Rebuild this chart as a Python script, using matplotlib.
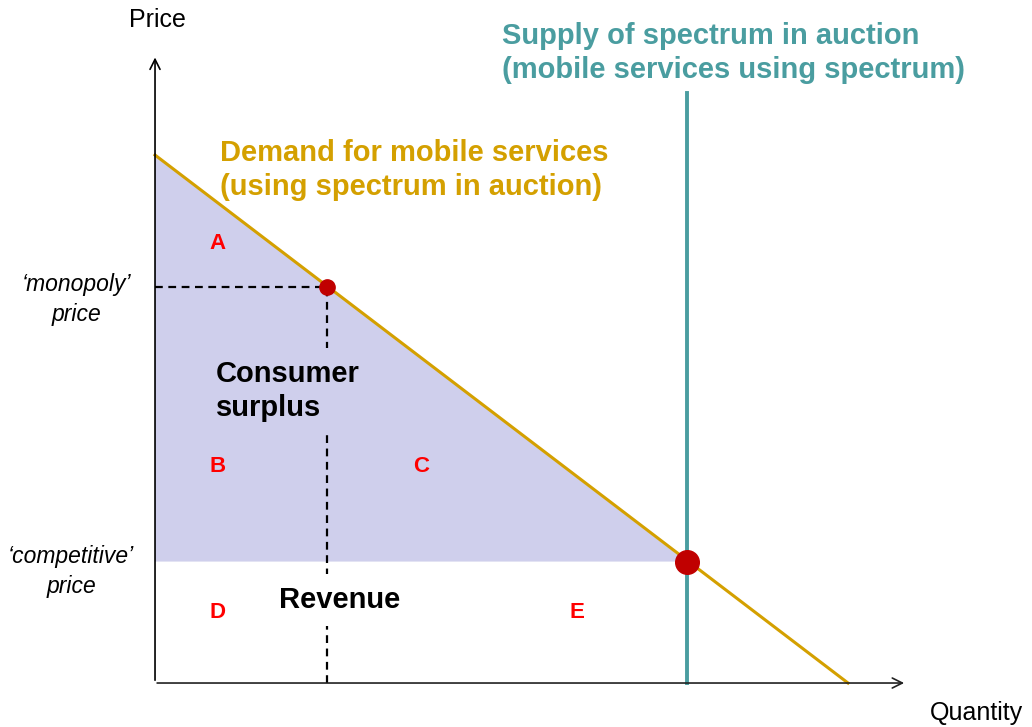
import matplotlib.pyplot as plt

plt.rcParams['font.family'] = ['Liberation Sans', 'DejaVu Sans']

# demand: P = demand_intercept - demand_slope * Q
demand_intercept = 10.0
demand_slope = 1.0
supply_quantity = 7.67
competitive_price = 2.3
monopoly_quantity = 2.48
monopoly_price = 7.5

region_letters = ['A', 'B', 'C', 'D', 'E']
letter_x = [0.9, 0.9, 3.84, 0.9, 6.09]
letter_y = [8.33, 4.11, 4.11, 1.33, 1.33]

gold = '#D4A000'
teal = '#4A9DA0'
lavender = '#CFCFEC'
dark_red = '#C00000'

fig = plt.figure(figsize=(10.32, 7.27), dpi=100)
ax = fig.add_axes([0, 0, 1, 1])
ax.set_xlim(-2.237, 12.655)
ax.set_ylim(-0.833, 12.936)
ax.axis('off')

q_end = demand_intercept / demand_slope

# consumer surplus area
ax.fill([0, 0, supply_quantity], [competitive_price, demand_intercept, competitive_price],
        color=lavender, lw=0, zorder=1)

# dashed guides for monopoly point
ax.plot([0, monopoly_quantity], [monopoly_price, monopoly_price], ls=(0, (3.5, 2.5)),
        color='black', lw=1.6, zorder=2)
ax.plot([monopoly_quantity, monopoly_quantity], [0, monopoly_price], ls=(0, (3.5, 2.5)),
        color='black', lw=1.6, zorder=2)

# demand and supply
ax.plot([0, q_end], [demand_intercept, 0], color=gold, lw=2.2, zorder=3)
ax.plot([supply_quantity, supply_quantity], [0, 11.17], color=teal, lw=2.8, zorder=3)

# axes with arrows
ax.annotate('', xy=(0, 11.9), xytext=(0, 0),
            arrowprops=dict(arrowstyle='->', color='black', lw=1.2, mutation_scale=18), zorder=4)
ax.annotate('', xy=(10.85, 0), xytext=(-0.01, 0),
            arrowprops=dict(arrowstyle='->', color='#222222', lw=1.2, mutation_scale=18), zorder=4)

# points
ax.plot(monopoly_quantity, monopoly_price, 'o', color=dark_red, ms=11, zorder=5)
ax.plot(supply_quantity, competitive_price, 'o', color=dark_red, ms=17, zorder=5)

# labels
ax.text(0.03, 12.55, 'Price', fontsize=18, ha='center', va='center')
ax.text(11.86, -0.57, 'Quantity', fontsize=18, ha='center', va='center')
ax.text(-1.13, 7.27, '\u2018monopoly\u2019\nprice', fontsize=16.5, style='italic',
        ha='center', va='center', linespacing=1.38)
ax.text(-1.21, 2.12, '\u2018competitive\u2019\nprice', fontsize=16.5, style='italic',
        ha='center', va='center', linespacing=1.38)

ax.text(0.94, 9.72, 'Demand for mobile services\n(using spectrum in auction)', fontsize=21,
        fontweight='bold', color=gold, ha='left', va='center', linespacing=1.28)
ax.text(5.01, 11.93, 'Supply of spectrum in auction\n(mobile services using spectrum)', fontsize=21,
        fontweight='bold', color=teal, ha='left', va='center', linespacing=1.28)

ax.text(0.88, 5.53, 'Consumer\nsurplus', fontsize=21, fontweight='bold', ha='left', va='center',
        linespacing=1.28, zorder=4,
        bbox=dict(boxstyle='square,pad=0.4', facecolor=lavender, edgecolor='none'))
ax.text(2.66, 1.57, 'Revenue', fontsize=21, fontweight='bold', ha='center', va='center', zorder=4,
        bbox=dict(boxstyle='square,pad=0.42', facecolor='white', edgecolor='none'))

for letter, lx, ly in zip(region_letters, letter_x, letter_y):
    ax.text(lx, ly, letter, fontsize=16, fontweight='bold', color='#FF0000',
            ha='center', va='center', zorder=4)

fig.savefig('out.png', dpi=100)
